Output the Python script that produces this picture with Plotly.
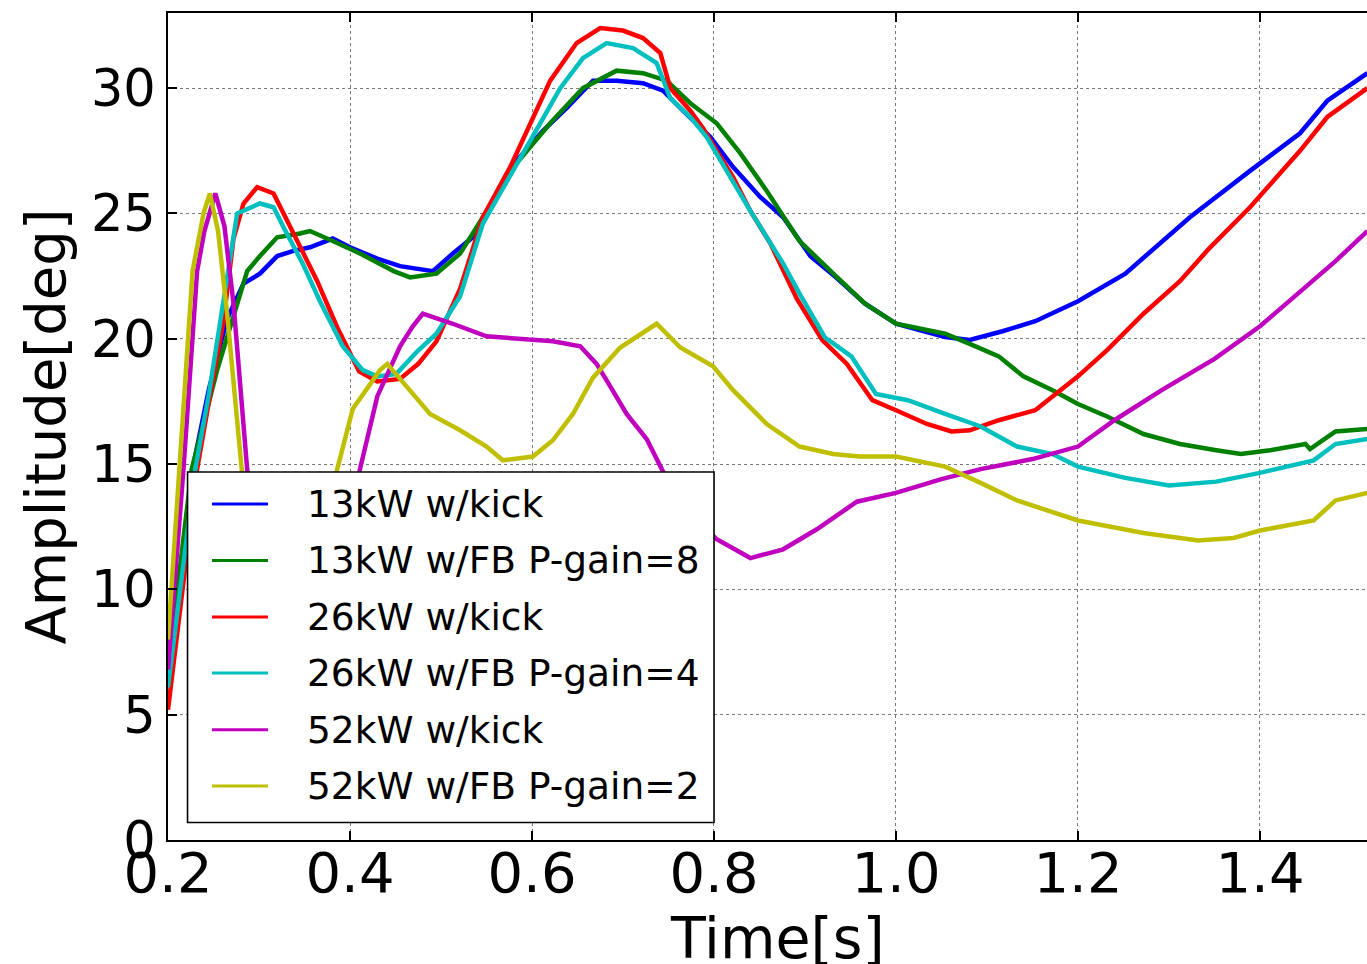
import plotly.graph_objects as go

# Amplitude of the phase oscillation [deg] versus time [s] for each run
t_13kick = [0.200, 0.227, 0.245, 0.265, 0.283, 0.301, 0.320, 0.337, 0.356, 0.381, 0.400, 0.430, 0.455,
            0.491, 0.513, 0.540, 0.550, 0.583, 0.612, 0.638, 0.667, 0.693, 0.722, 0.744, 0.766, 0.796,
            0.821, 0.851, 0.876, 0.906, 0.934, 0.966, 1.000, 1.054, 1.081, 1.117, 1.153, 1.200, 1.252,
            1.280, 1.323, 1.389, 1.444, 1.474, 1.518]
a_13kick = [6.5, 14.8, 18.0, 20.8, 22.2, 22.6, 23.3, 23.5, 23.65, 24.0, 23.65, 23.2, 22.9,
            22.7, 23.4, 24.2, 25.0, 27.1, 28.3, 29.2, 30.3, 30.3, 30.2, 29.9, 29.1, 28.05,
            26.85, 25.65, 24.85, 23.3, 22.45, 21.4, 20.6, 20.07, 19.95, 20.3, 20.7, 21.5, 22.6,
            23.5, 24.85, 26.7, 28.2, 29.5, 30.6]

t_13fb = [0.200, 0.226, 0.254, 0.276, 0.287, 0.301, 0.320, 0.345, 0.356, 0.381, 0.411, 0.448, 0.466,
          0.495, 0.521, 0.546, 0.583, 0.620, 0.656, 0.693, 0.722, 0.748, 0.774, 0.803, 0.829, 0.858,
          0.894, 0.934, 0.966, 1.000, 1.054, 1.081, 1.113, 1.140, 1.172, 1.200, 1.232, 1.272, 1.312,
          1.352, 1.379, 1.411, 1.450, 1.455, 1.483, 1.518]
a_13fb = [6.8, 14.8, 18.75, 21.4, 22.7, 23.3, 24.05, 24.2, 24.3, 23.9, 23.4, 22.7, 22.45,
          22.6, 23.4, 24.85, 27.0, 28.6, 30.0, 30.7, 30.6, 30.3, 29.4, 28.6, 27.4, 25.9,
          23.9, 22.5, 21.4, 20.6, 20.2, 19.8, 19.3, 18.5, 17.95, 17.4, 16.9, 16.2, 15.8,
          15.55, 15.4, 15.55, 15.8, 15.6, 16.3, 16.4]

t_26kick = [0.200, 0.232, 0.245, 0.261, 0.272, 0.283, 0.298, 0.316, 0.327, 0.345, 0.364, 0.386, 0.410,
            0.430, 0.455, 0.475, 0.495, 0.521, 0.546, 0.576, 0.598, 0.620, 0.649, 0.675, 0.700, 0.722,
            0.741, 0.752, 0.774, 0.788, 0.803, 0.821, 0.840, 0.862, 0.891, 0.919, 0.946, 0.974, 1.000,
            1.034, 1.061, 1.081, 1.113, 1.153, 1.200, 1.232, 1.272, 1.312, 1.344, 1.389, 1.444, 1.474,
            1.518]
a_26kick = [5.2, 14.8, 17.5, 20.7, 24.0, 25.4, 26.05, 25.8, 25.0, 23.65, 22.3, 20.45, 18.7,
            18.3, 18.4, 19.0, 19.9, 22.0, 24.85, 26.85, 28.6, 30.3, 31.8, 32.4, 32.3, 32.0,
            31.4, 30.0, 29.1, 28.4, 27.5, 26.45, 25.1, 23.8, 21.6, 19.95, 19.0, 17.55, 17.15,
            16.6, 16.3, 16.35, 16.75, 17.15, 18.5, 19.55, 21.0, 22.3, 23.6, 25.25, 27.5, 28.85,
            30.0]

t_26fb = [0.200, 0.230, 0.245, 0.261, 0.276, 0.301, 0.316, 0.327, 0.348, 0.367, 0.392, 0.414, 0.430,
          0.451, 0.474, 0.495, 0.521, 0.546, 0.583, 0.609, 0.631, 0.656, 0.682, 0.711, 0.737, 0.752,
          0.774, 0.792, 0.814, 0.840, 0.876, 0.894, 0.922, 0.951, 0.978, 1.013, 1.054, 1.093, 1.133,
          1.172, 1.200, 1.252, 1.300, 1.352, 1.400, 1.459, 1.483, 1.518]
a_26fb = [6.1, 14.8, 17.8, 21.5, 25.0, 25.4, 25.25, 24.45, 23.0, 21.5, 19.7, 18.75, 18.5,
          18.6, 19.5, 20.2, 21.7, 24.6, 27.0, 28.6, 30.0, 31.2, 31.8, 31.6, 31.0, 29.6,
          28.85, 28.05, 26.7, 25.1, 23.0, 21.8, 20.05, 19.3, 17.8, 17.55, 17.0, 16.5, 15.7,
          15.4, 14.9, 14.45, 14.15, 14.3, 14.65, 15.15, 15.8, 16.0]

t_52kick = [0.200, 0.217, 0.232, 0.240, 0.252, 0.262, 0.272, 0.287, 0.300, 0.330, 0.360, 0.390, 0.411,
            0.430, 0.455, 0.469, 0.480, 0.513, 0.550, 0.587, 0.623, 0.653, 0.671, 0.686, 0.704, 0.726,
            0.744, 0.775, 0.803, 0.840, 0.876, 0.913, 0.957, 1.000, 1.050, 1.093, 1.150, 1.200, 1.240,
            1.292, 1.350, 1.400, 1.483, 1.518]
a_52kick = [6.8, 14.8, 22.7, 24.3, 25.8, 24.5, 21.4, 14.8, 10.5, 7.0, 6.5, 9.5, 14.8,
            17.7, 19.7, 20.5, 21.0, 20.6, 20.1, 20.0, 19.9, 19.7, 19.0, 18.1, 17.0, 16.0,
            14.7, 13.0, 12.0, 11.25, 11.6, 12.4, 13.5, 13.85, 14.4, 14.8, 15.2, 15.7, 16.75,
            17.95, 19.2, 20.5, 23.1, 24.3]

t_52fb = [0.200, 0.213, 0.227, 0.239, 0.246, 0.255, 0.265, 0.281, 0.300, 0.330, 0.360, 0.386, 0.403,
          0.433, 0.441, 0.455, 0.488, 0.521, 0.550, 0.568, 0.601, 0.623, 0.645, 0.667, 0.697, 0.737,
          0.763, 0.799, 0.821, 0.858, 0.894, 0.931, 0.960, 1.000, 1.054, 1.093, 1.133, 1.200, 1.272,
          1.332, 1.371, 1.400, 1.459, 1.483, 1.518]
a_52fb = [8.0, 14.8, 22.7, 25.0, 25.8, 24.3, 21.0, 14.8, 10.5, 8.5, 10.0, 14.8, 17.2,
          18.75, 19.0, 18.4, 17.0, 16.35, 15.7, 15.15, 15.3, 15.95, 17.0, 18.45, 19.65, 20.6,
          19.65, 18.9, 17.95, 16.6, 15.7, 15.4, 15.3, 15.3, 14.9, 14.25, 13.55, 12.75, 12.25,
          11.95, 12.05, 12.35, 12.75, 13.55, 13.85]

series = [
    ("13kW w/kick", t_13kick, a_13kick, "#0000ff"),
    ("13kW w/FB P-gain=8", t_13fb, a_13fb, "#008000"),
    ("26kW w/kick", t_26kick, a_26kick, "#ff0000"),
    ("26kW w/FB P-gain=4", t_26fb, a_26fb, "#00bfbf"),
    ("52kW w/kick", t_52kick, a_52kick, "#bf00bf"),
    ("52kW w/FB P-gain=2", t_52fb, a_52fb, "#bfbf00"),
]

x_ticks = [0.2, 0.4, 0.6, 0.8, 1.0, 1.2, 1.4]
y_ticks = [0, 5, 10, 15, 20, 25, 30]

FONT = "DejaVu Sans"

fig = go.Figure()
for name, t, a, color in series:
    fig.add_trace(go.Scatter(
        x=t, y=a, mode="lines", name=name, showlegend=False,
        line=dict(color=color, width=4.5),
    ))

# Boxed legend in the lower-left corner of the axes (paper coordinates)
LEG_X0, LEG_X1 = 0.0163, 0.4554
LEG_Y0, LEG_Y1 = 0.0212, 0.4450
SAMPLE_X0, SAMPLE_X1 = 0.0367, 0.0834
LABEL_X = 0.1143
row_y = [0.4063, 0.3381, 0.2697, 0.2019, 0.1333, 0.0653]

shapes = [dict(type="rect", xref="paper", yref="paper", layer="above",
               x0=LEG_X0, x1=LEG_X1, y0=LEG_Y0, y1=LEG_Y1,
               fillcolor="white", line=dict(color="black", width=1.6))]
annotations = []
for (name, _, _, color), yy in zip(series, row_y):
    shapes.append(dict(type="line", xref="paper", yref="paper", layer="above",
                       x0=SAMPLE_X0, x1=SAMPLE_X1, y0=yy, y1=yy,
                       line=dict(color=color, width=3)))
    annotations.append(dict(text=name, xref="paper", yref="paper", x=LABEL_X, y=yy,
                            xanchor="left", yanchor="middle", showarrow=False,
                            font=dict(family=FONT, size=37.5, color="black")))

# x-axis label
annotations.append(dict(text="Time[s]", xref="paper", yref="paper", x=0.508, y=-0.0762,
                        xanchor="center", yanchor="top", showarrow=False,
                        font=dict(family=FONT, size=57, color="black")))

axis_common = dict(
    showgrid=True, gridcolor="#7a7a7a", gridwidth=1.4, griddash="dot",
    zeroline=False, showline=True, linecolor="black", linewidth=2,
    ticks="inside", ticklen=9, tickwidth=1.5, tickcolor="black",
)

fig.update_layout(
    width=1367, height=964,
    margin=dict(l=168, r=0, t=13, b=124),
    paper_bgcolor="white", plot_bgcolor="white",
    font=dict(family=FONT, color="black"),
    showlegend=False,
    shapes=shapes,
    annotations=annotations,
    xaxis=dict(
        range=[0.2, 1.5176], tickvals=x_ticks,
        ticktext=[f"{v:.1f}" for v in x_ticks], mirror="ticks",
        tickfont=dict(family=FONT, size=56, color="black"),
        ticklabelstandoff=-17,
        **axis_common,
    ),
    yaxis=dict(
        range=[0, 33], tickvals=y_ticks, ticktext=[str(v) for v in y_ticks],
        tickfont=dict(family=FONT, size=51, color="black"),
        title=dict(text="Amplitude[deg]", font=dict(family=FONT, size=56), standoff=7),
        **axis_common,
    ),
)

fig.write_html("out.html")
